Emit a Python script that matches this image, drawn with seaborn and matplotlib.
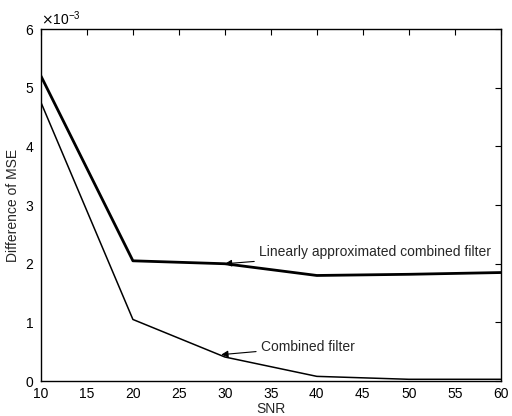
import matplotlib
matplotlib.use("Agg")
import matplotlib.pyplot as plt
import seaborn as sns
import pandas as pd
from matplotlib.ticker import ScalarFormatter

snr = [10, 20, 30, 40, 50, 60]
linear_approx = [5.2e-3, 2.05e-3, 2.0e-3, 1.80e-3, 1.82e-3, 1.85e-3]
combined = [4.75e-3, 1.05e-3, 0.41e-3, 0.08e-3, 0.03e-3, 0.03e-3]
x_ticks = [10, 15, 20, 25, 30, 35, 40, 45, 50, 55, 60]
y_ticks = [0, 1e-3, 2e-3, 3e-3, 4e-3, 5e-3, 6e-3]

sns.set_theme(style="white")
plt.rcParams['font.family'] = ['Liberation Sans', 'DejaVu Sans']

fig = plt.figure(figsize=(5.12, 4.16), dpi=100)
ax = fig.add_axes([0.08, 0.084, 0.898, 0.846])

df1 = pd.DataFrame({"SNR": snr, "MSE": linear_approx})
df2 = pd.DataFrame({"SNR": snr, "MSE": combined})
sns.lineplot(data=df1, x="SNR", y="MSE", ax=ax, color="black", linewidth=2.0)
sns.lineplot(data=df2, x="SNR", y="MSE", ax=ax, color="black", linewidth=1.1)

ax.set_xlim(10, 60)
ax.set_ylim(0, 6e-3)
ax.set_xticks(x_ticks)
ax.set_yticks(y_ticks)
fmt = ScalarFormatter(useMathText=True)
fmt.set_powerlimits((-2, 2))
ax.yaxis.set_major_formatter(fmt)
ax.yaxis.get_offset_text().set_fontsize(10)

ax.tick_params(direction="in", length=4, width=0.8, top=True, right=True,
               labelsize=10, colors="black")
ax.tick_params(axis="y", pad=5)
ax.tick_params(axis="x", pad=4)
for s in ax.spines.values():
    s.set_color("black")
    s.set_linewidth(1.0)

ax.set_xlabel("SNR", fontsize=10, labelpad=1)
ax.set_ylabel("Difference of MSE", fontsize=10, labelpad=3)

ax.annotate("Linearly approximated combined filter", xy=(30, 2.0e-3),
            xytext=(33.7, 2.2e-3), fontsize=10, va="center", ha="left",
            arrowprops=dict(arrowstyle="-|>", color="black", lw=0.8,
                            mutation_scale=10, shrinkA=1, shrinkB=0))
ax.annotate("Combined filter", xy=(29.6, 0.45e-3),
            xytext=(33.9, 0.58e-3), fontsize=10, va="center", ha="left",
            arrowprops=dict(arrowstyle="-|>", color="black", lw=0.8,
                            mutation_scale=10, shrinkA=1, shrinkB=0))

fig.savefig("out.png", dpi=100)
